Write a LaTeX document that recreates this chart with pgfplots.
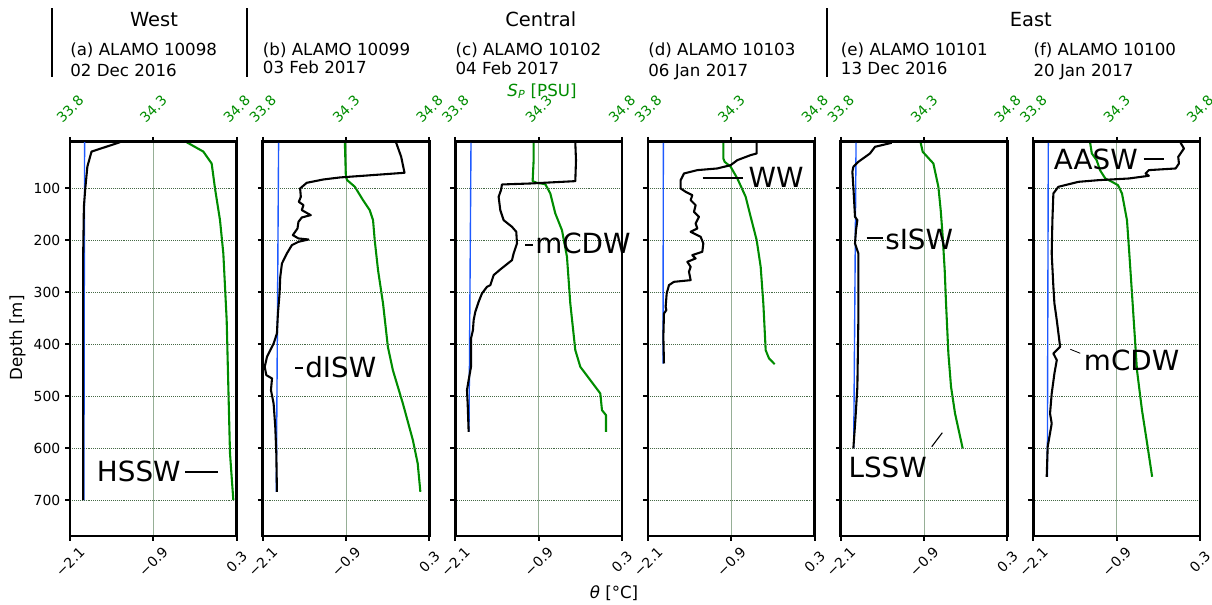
\documentclass[border=0pt]{standalone}
\usepackage{fontspec}
\setmainfont{DejaVu Sans}
\usepackage{pgfplots}
\pgfplotsset{compat=1.18}

\definecolor{sgreen}{RGB}{0,140,0}
\definecolor{fzblue}{RGB}{30,90,255}
\definecolor{hgrid}{RGB}{70,105,70}
\definecolor{vgrid}{RGB}{150,175,150}

% one pixel of the 1212x604 reference = 0.72pt
\pgfplotsset{
  prof/.style={
    at={({#1*0.72pt},{-141.7*0.72pt})}, anchor=north west,
    scale only axis, width=120pt, height=283.9pt,
    ymin=10, ymax=769, y dir=reverse,
    axis line style={line width=2pt},
    tick style={line width=1.4pt, black},
    major tick length=3.5pt,
    tick align=outside,
  },
  temp/.style={prof=#1,
    xmin=-2.1, xmax=0.3, xtick={-2.1,-0.9,0.3},
    xticklabels={−2.1,−0.9,0.3},
    xtick pos=left, ytick pos=left,
    ytick={100,200,300,400,500,600,700},
    yticklabels={},
    ymajorgrids,
    grid style={densely dotted, line width=0.7pt, hgrid},
    xticklabel style={rotate=45, anchor=center, font=\fontsize{10}{12}\selectfont},
    yticklabel style={font=\fontsize{10}{12}\selectfont},
    xticklabel shift=15pt,
  },
  sal/.style={prof=#1,
    xmin=33.8, xmax=34.8, xtick={33.8,34.3,34.8},
    xticklabels={33.8,34.3,34.8},
    axis x line*=top, axis y line=none,
    xmajorgrids,
    grid style={line width=0.5pt, vgrid},
    xticklabel style={rotate=45, anchor=center, text=sgreen,
      font=\fontsize{10}{12}\selectfont},
    xticklabel shift=20pt,
  },
  tline/.style={black, line width=1.5pt, line join=round},
  sline/.style={sgreen, line width=1.5pt, line join=round},
  fline/.style={fzblue, line width=1pt},
}

\begin{document}
\begin{tikzpicture}
\path[use as bounding box] (0pt,0pt) rectangle (872.64pt,-434.88pt);

% ---------------- (a) ALAMO 10098 ----------------
\begin{axis}[sal=70]
\addplot[sline] coordinates {
 (34.50,11) (34.60,29) (34.65,52) (34.67,100) (34.70,161) (34.72,225)
 (34.74,353) (34.75,482) (34.76,610) (34.78,700)};
\end{axis}
\begin{axis}[temp=70, yticklabels={100,200,300,400,500,600,700}]
\addplot[fline] coordinates {(-1.89,11) (-1.90,700)};
\addplot[tline] coordinates {
 (-1.38,11) (-1.79,29) (-1.85,58) (-1.88,100) (-1.90,135) (-1.91,225)
 (-1.91,418) (-1.91,700)};
\end{axis}

% ---------------- (b) ALAMO 10099 ----------------
\begin{axis}[sal=262.7]
\addplot[sline] coordinates {
 (34.293,12) (34.299,77.5) (34.307,84) (34.353,96.8) (34.402,122.5)
 (34.442,141.7) (34.462,161) (34.472,199.5) (34.492,257.2) (34.522,321.4)
 (34.551,404.8) (34.581,449.7) (34.641,513.9) (34.701,584.4) (34.730,629.4)
 (34.746,683.9)};
\end{axis}
\begin{axis}[temp=262.7]
\addplot[fline] coordinates {(-1.871,12) (-1.904,684)};
\addplot[tline] coordinates {
 (-0.178,12.1) (-0.140,26.2) (-0.106,39.0) (-0.058,69.8) (-0.989,78.8)
 (-1.227,82.7) (-1.466,89.1) (-1.561,100) (-1.551,116) (-1.580,125.7)
 (-1.513,132) (-1.537,141.7) (-1.408,151.3) (-1.537,155.8) (-1.585,164.2)
 (-1.599,177) (-1.666,189.8) (-1.585,196.2) (-1.442,198.2) (-1.585,202.7)
 (-1.680,209.1) (-1.752,225.1) (-1.823,244.4) (-1.847,270) (-1.857,302)
 (-1.881,340.6) (-1.895,379.1) (-1.943,398.4) (-1.990,411.2) (-2.038,424)
 (-2.071,443.3) (-2.048,459.3) (-1.966,465.7) (-1.981,488.2) (-1.943,513.9)
 (-1.919,558.8) (-1.904,610.1) (-1.895,683.9)};
\end{axis}

% ---------------- (c) ALAMO 10102 ----------------
\begin{axis}[sal=455.3]
\addplot[sline] coordinates {
 (34.27,12.1) (34.27,45.5) (34.264,85.9) (34.29,89.1) (34.34,91.7)
 (34.37,109.6) (34.40,148.1) (34.44,180.2) (34.47,231.5) (34.49,321.4)
 (34.52,411.2) (34.55,443.3) (34.67,494.6) (34.68,526.7) (34.704,536.3)
 (34.704,568.4)};
\end{axis}
\begin{axis}[temp=455.3]
\addplot[fline] coordinates {(-1.874,12) (-1.903,568)};
\addplot[tline] coordinates {
 (-0.372,12.1) (-0.362,45.5) (-0.372,85.9) (-1.02,90.4) (-1.428,92.3)
 (-1.442,103.2) (-1.476,116) (-1.452,141.7) (-1.404,161) (-1.284,173.8)
 (-1.222,183.4) (-1.212,205.9) (-1.260,225.1) (-1.284,238) (-1.452,255.9)
 (-1.548,266.8) (-1.596,286.1) (-1.644,289.3) (-1.716,302.1) (-1.764,318.2)
 (-1.812,337.4) (-1.836,353.5) (-1.846,372.7) (-1.874,388.7) (-1.874,443.3)
 (-1.908,468.9) (-1.932,488.2) (-1.922,513.9) (-1.908,568.4)};
\end{axis}

% ---------------- (d) ALAMO 10103 ----------------
\begin{axis}[sal=648]
\addplot[sline] coordinates {
 (34.252,12.1) (34.252,42.3) (34.26,48.7) (34.296,58.3) (34.336,80.8)
 (34.386,116) (34.416,154.5) (34.452,199.5) (34.476,250.8) (34.492,321.4)
 (34.506,411.2) (34.526,427.2) (34.56,438.2)};
\end{axis}
\begin{axis}[temp=648]
\addplot[fline] coordinates {(-1.879,12) (-1.884,437)};
\addplot[tline] coordinates {
 (-0.535,12.1) (-0.535,32.6) (-0.622,35.8) (-0.814,45.5) (-0.910,55.1)
 (-1.102,61.5) (-1.390,64.7) (-1.582,71.1) (-1.630,84) (-1.630,100)
 (-1.558,106.4) (-1.462,112.8) (-1.486,122.5) (-1.414,132.1) (-1.438,144.9)
 (-1.366,154.5) (-1.414,167.4) (-1.390,177) (-1.486,183.4) (-1.342,193)
 (-1.303,205.9) (-1.318,221.9) (-1.462,228.3) (-1.414,234.7) (-1.534,241.2)
 (-1.486,250.8) (-1.510,260.4) (-1.486,276.5) (-1.726,279.7) (-1.798,286.1)
 (-1.831,302.1) (-1.846,327.8) (-1.836,334.2) (-1.870,340.6) (-1.879,385.5)
 (-1.870,436.9)};
\end{axis}

% ---------------- (e) ALAMO 10101 ----------------
\begin{axis}[sal=840.7]
\addplot[sline] coordinates {
 (34.28,12.1) (34.292,29.4) (34.356,51.9) (34.386,96.8) (34.40,141.7)
 (34.412,193) (34.424,257.2) (34.432,321.4) (34.446,417.6) (34.462,481.8)
 (34.486,533.1) (34.532,600.5)};
\end{axis}
\begin{axis}[temp=840.7]
\addplot[fline] coordinates {(-1.879,12) (-1.913,600)};
\addplot[tline] coordinates {
 (-1.366,12.1) (-1.606,19.8) (-1.678,32.6) (-1.846,48.7) (-1.918,58.3)
 (-1.932,67.9) (-1.918,96.8) (-1.894,154.5) (-1.860,161) (-1.880,180.2)
 (-1.894,205.9) (-1.846,225.1) (-1.846,353.5) (-1.860,481.8) (-1.889,545.9)
 (-1.918,600.5)};
\end{axis}

% ---------------- (f) ALAMO 10100 ----------------
\begin{axis}[sal=1033.3]
\addplot[sline] coordinates {
 (34.141,12.1) (34.151,32.6) (34.18,45.5) (34.20,64.7) (34.232,80.8)
 (34.272,87.2) (34.308,93.6) (34.332,109.6) (34.362,161) (34.376,225.1)
 (34.396,321.4) (34.422,449.7) (34.452,526.7) (34.483,590.9) (34.513,655)};
\end{axis}
\begin{axis}[temp=1033.3]
\addplot[fline] coordinates {(-1.884,12) (-1.898,655)};
\addplot[tline] coordinates {
 (0.021,12.1) (0.069,23) (0.021,32.6) (-0.013,39) (-0.003,51.9)
 (-0.051,61.5) (-0.436,64.7) (-0.484,71.1) (-0.436,75.6) (-0.725,80.8)
 (-1.160,84) (-1.449,87.2) (-1.739,96.8) (-1.811,109.6) (-1.825,161)
 (-1.835,225.1) (-1.811,289.3) (-1.796,321.4) (-1.762,353.5) (-1.714,404.8)
 (-1.811,417.6) (-1.762,430.4) (-1.796,456.1) (-1.835,494.6) (-1.859,533.1)
 (-1.835,552.4) (-1.893,597.3) (-1.907,655)};
\end{axis}

\begin{scope}[x=0.72pt, y=-0.72pt]
% ---------------- water mass annotations ----------------
\begin{scope}[every node/.style={inner sep=0pt, anchor=west,
    font=\fontsize{20}{24}\selectfont}]
\node at (96.7,471) {HSSW};
\draw[line width=1.2pt] (185,472) -- (218.3,472);
\draw[line width=1.2pt] (295,368.3) -- (303.3,368.3);
\node at (305,367.5) {dISW};
\draw[line width=1.2pt] (525,245) -- (533.3,245);
\node at (535,243.3) {mCDW};
\draw[line width=1.2pt] (702.7,177.7) -- (742.7,177.7);
\node at (748.3,177.7) {WW};
\draw[line width=1.2pt] (866.7,238.3) -- (883.3,238.3);
\node at (885,239) {sISW};
\node at (848.3,467.3) {LSSW};
\draw[line width=0.8pt] (931.7,446.7) -- (942.3,432.7);
\node at (1053.7,159) {AASW};
\draw[line width=1.2pt] (1143.7,159) -- (1163.7,159);
\node at (1083.7,360.7) {mCDW};
\draw[line width=0.6pt] (1070.3,349.3) -- (1080.3,353.3);
\end{scope}

% ---------------- header ----------------
\foreach \xx in {51.7,246.7,826.7}
  \draw[line width=1.5pt] (\xx,8.3) -- (\xx,76.7);
\begin{scope}[every node/.style={inner sep=0pt, font=\fontsize{14}{17}\selectfont}]
\node[anchor=base] at (154,26.7) {West};
\node[anchor=base] at (540.8,26.7) {Central};
\node[anchor=base] at (1030.8,26.7) {East};
\end{scope}
\begin{scope}[every node/.style={inner sep=0pt, anchor=base west,
    font=\fontsize{12}{14.4}\selectfont}]
\node at (70,55) {(a) ALAMO 10098};
\node at (70,76) {02 Dec 2016};
\node at (262.7,55) {(b) ALAMO 10099};
\node at (262.7,73.5) {03 Feb 2017};
\node at (455.3,55) {(c) ALAMO 10102};
\node at (455.3,74) {04 Feb 2017};
\node at (648,55) {(d) ALAMO 10103};
\node at (648,76) {06 Jan 2017};
\node at (840.7,55) {(e) ALAMO 10101};
\node at (840.7,74) {13 Dec 2016};
\node at (1033.3,55) {(f) ALAMO 10100};
\node at (1033.3,76) {20 Jan 2017};
\end{scope}

% ---------------- axis titles ----------------
\node[inner sep=0pt, anchor=base, text=sgreen, font=\fontsize{12}{14.4}\selectfont]
  at (542,96) {{\itshape S}\textsubscript{\itshape P} [PSU]};
\node[inner sep=0pt, anchor=base, font=\fontsize{12}{14.4}\selectfont]
  at (614,598) {{\itshape θ} [°C]};
\node[inner sep=0pt, rotate=90, font=\fontsize{12}{14.4}\selectfont]
  at (17.5,338) {Depth [m]};
\end{scope}
\end{tikzpicture}
\end{document}
